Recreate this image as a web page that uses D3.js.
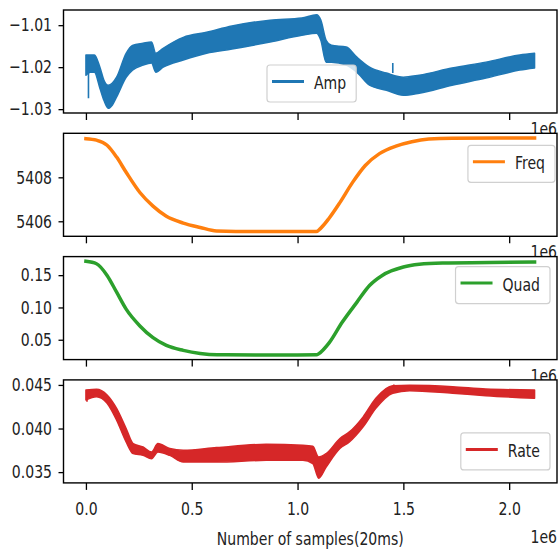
<!DOCTYPE html>
<html>
<head>
<meta charset="utf-8">
<script src="https://cdn.jsdelivr.net/npm/d3@7"></script>
<style>
body { margin: 0; background: #fff; }
text { font-family: "DejaVu Sans"; font-size: 18px; fill: #222; }
</style>
</head>
<body>
<svg width="558" height="553"></svg>
<script>
// samples, in millions (the axis shows a 1e6 offset)
var ampX = [0, 0.02, 0.04, 0.066, 0.085, 0.105, 0.125, 0.145, 0.19, 0.22, 0.27, 0.31, 0.33, 0.365, 0.46, 0.57, 0.69, 0.87, 1.02, 1.09, 1.11, 1.135, 1.16, 1.23, 1.28, 1.34, 1.42, 1.50, 1.575, 1.73, 1.89, 2.05, 2.12];
var ampHi = [-1.0171, -1.0171, -1.0171, -1.0200, -1.0231, -1.0243, -1.0238, -1.0224, -1.0167, -1.0148, -1.0143, -1.0140,
             -1.0167, -1.0155, -1.0129, -1.0117, -1.0102, -1.0088, -1.0083, -1.0075, -1.0088, -1.0136,
             -1.0148, -1.0152, -1.0176, -1.0200, -1.0214, -1.0224, -1.0219, -1.0202, -1.0188, -1.0171, -1.0167];
var ampLo = [-1.0219, -1.0212, -1.0212, -1.0250, -1.0279, -1.0298, -1.0290, -1.0271, -1.0224, -1.0207, -1.0195, -1.0190,
             -1.0212, -1.0200, -1.0183, -1.0167, -1.0157, -1.0140, -1.0124, -1.0119, -1.0136, -1.0188,
             -1.0188, -1.0195, -1.0212, -1.0243, -1.0255, -1.0267, -1.0262, -1.0243, -1.0226, -1.0207, -1.0202];
var ampSpikeX = [0.012, 1.45];
var ampSpikeTip = [-1.0274, -1.0190];
var ampSpikeBase = [-1.0212, -1.0214];

var freqX = [0, 0.05, 0.1, 0.145, 0.19, 0.255, 0.317, 0.38, 0.46, 0.54, 0.617, 0.8, 1.0, 1.088, 1.11, 1.15, 1.2, 1.26, 1.32, 1.387, 1.465, 1.54, 1.62, 1.73, 2.12];
var freqV = [5409.76, 5409.69, 5409.46, 5408.92, 5408.23, 5407.31, 5406.69, 5406.23, 5405.92, 5405.72, 5405.56, 5405.53, 5405.53,
             5405.53, 5405.69, 5406.15, 5406.85, 5407.77, 5408.54, 5409.08, 5409.42, 5409.62, 5409.74, 5409.78, 5409.79];

var quadX = [0, 0.05, 0.1, 0.145, 0.19, 0.255, 0.317, 0.38, 0.46, 0.54, 0.62, 0.8, 1.0, 1.09, 1.10, 1.15, 1.21, 1.28, 1.34, 1.40, 1.50, 1.575, 1.685, 2.12];
var quadV = [0.1715, 0.1677, 0.1496, 0.1236, 0.0974, 0.0714, 0.0532, 0.0412, 0.0335, 0.0287, 0.0267, 0.0265,
             0.0265, 0.0267, 0.0283, 0.0455, 0.0766, 0.1079, 0.1340, 0.1496, 0.1626, 0.1668, 0.1688, 0.1704];

var rateX = [0, 0.05, 0.1, 0.145, 0.19, 0.223, 0.27, 0.31, 0.34, 0.396, 0.46, 0.617, 0.852, 1.025, 1.072, 1.10, 1.135, 1.2, 1.245, 1.31, 1.37, 1.45, 1.53, 1.733, 1.89, 2.12];
var rateHi = [0.04442, 0.04450, 0.04385, 0.04231, 0.04000, 0.03827, 0.03788, 0.03730, 0.03827, 0.03770, 0.03750, 0.03781, 0.03819,
              0.03808, 0.03796, 0.03673, 0.03712, 0.03885, 0.03961, 0.04134, 0.04347, 0.04490, 0.04495, 0.04480, 0.04454, 0.04442];
var rateLo = [0.04327, 0.04365, 0.04289, 0.04096, 0.03846, 0.03712, 0.03692, 0.03654, 0.03730, 0.03692, 0.03615, 0.03615, 0.03635,
              0.03635, 0.03597, 0.03430, 0.03557, 0.03770, 0.03846, 0.04019, 0.04231, 0.04404, 0.04434, 0.04404, 0.04377, 0.04347];
var rateSpikeX = [0.005, 1.455];
var rateSpikeTip = [0.04307, 0.04504];
var rateSpikeBase = [0.0440, 0.0448];

var names = ["Amp", "Freq", "Quad", "Rate"];
var colors = ["#1f77b4", "#ff7f0e", "#2ca02c", "#d62728"];
var xTicks = [0, 0.5, 1.0, 1.5, 2.0];
var xTickLabels = ["0.0", "0.5", "1.0", "1.5", "2.0"];
var yTicks = [[-1.03, -1.02, -1.01], [5406, 5408], [0.05, 0.10, 0.15], [0.035, 0.040, 0.045]];
var yTickLabels = [["\u22121.03", "\u22121.02", "\u22121.01"], ["5406", "5408"], ["0.05", "0.10", "0.15"], ["0.035", "0.040", "0.045"]];
var xLabel = "Number of samples(20ms)";
var offsetLabel = "1e6";

var SX = 0.78;   // text is squeezed horizontally in the picture
var left = 63.5, right = 557, top0 = 10, ph = 103, pstep = 123.3;

var svg = d3.select("svg");

function zip(xs, ys) { return xs.map((d, i) => [d, ys[i]]); }
function padded(lo, hi) { var d = (hi - lo) * 0.05; return [lo - d, hi + d]; }

var series = [
    { band: true, x: ampX, lo: ampLo, hi: ampHi, sx: ampSpikeX, tip: ampSpikeTip, base: ampSpikeBase },
    { band: false, x: freqX, v: freqV },
    { band: false, x: quadX, v: quadV },
    { band: true, x: rateX, lo: rateLo, hi: rateHi, sx: rateSpikeX, tip: rateSpikeTip, base: rateSpikeBase }
];

var allX = [].concat(ampX, freqX, quadX, rateX);
var x = d3.scaleLinear().domain(padded(d3.min(allX), d3.max(allX))).range([left, right]);

// legend placement, relative to each panel
var legendPos = [{ left: 267, top: 55 }, { right: 555, top: 12 }, { right: 550, top: 10 }, { right: 550, top: 53 }];

function squeeze(sel) {
    sel.each(function () {
        var t = d3.select(this);
        var tx = +(t.attr("x") || 0);
        t.attr("x", tx / SX).attr("transform", "scale(" + SX + ",1)");
    });
}

series.forEach(function (s, i) {
    var top = top0 + i * pstep;
    var g = svg.append("g").attr("transform", "translate(0," + top + ")");
    g.append("rect").attr("x", left).attr("y", 0).attr("width", right - left).attr("height", ph).attr("fill", "#fff");

    var vals = s.band ? [].concat(s.lo, s.hi, s.tip) : s.v;
    var y = d3.scaleLinear().domain(padded(d3.min(vals), d3.max(vals))).range([ph, 0]);

    g.append("clipPath").attr("id", "clip" + i)
        .append("rect").attr("x", left).attr("y", 0).attr("width", right - left).attr("height", ph);
    var plot = g.append("g").attr("clip-path", "url(#clip" + i + ")");

    if (s.band) {
        var area = d3.area().x(d => x(d[0])).y0(d => y(d[1])).y1(d => y(d[2])).curve(d3.curveMonotoneX);
        var pts = s.x.map((d, j) => [d, s.lo[j], s.hi[j]]);
        plot.append("path").attr("d", area(pts))
            .attr("fill", colors[i]).attr("stroke", colors[i]).attr("stroke-width", 1.5)
            .attr("stroke-linejoin", "round");
        s.sx.forEach(function (sxv, j) {
            plot.append("line")
                .attr("x1", x(sxv)).attr("x2", x(sxv))
                .attr("y1", y(s.base[j])).attr("y2", y(s.tip[j]))
                .attr("stroke", colors[i]).attr("stroke-width", 1.6);
        });
    } else {
        var line = d3.line().x(d => x(d[0])).y(d => y(d[1])).curve(d3.curveMonotoneX);
        plot.append("path").attr("d", line(zip(s.x, s.v)))
            .attr("fill", "none").attr("stroke", colors[i]).attr("stroke-width", 3.5)
            .attr("stroke-linecap", "square").attr("stroke-linejoin", "round");
    }

    // y axis
    var ya = g.append("g").attr("transform", "translate(" + left + ",0)")
        .call(d3.axisLeft(y).tickValues(yTicks[i]).tickFormat((d, j) => yTickLabels[i][j])
            .tickSize(5).tickPadding(6.5).tickSizeOuter(0));
    ya.select(".domain").remove();
    ya.selectAll("line").attr("stroke", "#000").attr("stroke-width", 1.3);
    ya.selectAll("text").attr("fill", "#222").attr("font-size", 18).attr("font-family", "DejaVu Sans").call(squeeze);

    // x axis
    var xa = g.append("g").attr("transform", "translate(0," + ph + ")")
        .call(d3.axisBottom(x).tickValues(xTicks).tickFormat((d, j) => xTickLabels[j])
            .tickSize(7).tickPadding(12).tickSizeOuter(0));
    xa.select(".domain").remove();
    xa.selectAll("line").attr("stroke", "#000").attr("stroke-width", 1.3);
    if (i < series.length - 1) {
        xa.selectAll("text").remove();
        g.append("text").attr("transform", "translate(" + right + "," + (ph + 22) + ") scale(" + SX + ",1)")
            .attr("text-anchor", "end").text(offsetLabel);
    } else {
        xa.selectAll("text").attr("fill", "#222").attr("font-size", 18).attr("font-family", "DejaVu Sans").call(squeeze);
        g.append("text").attr("transform", "translate(" + right + "," + (ph + 60) + ") scale(" + SX + ",1)")
            .attr("text-anchor", "end").text(offsetLabel);
        g.append("text").attr("transform", "translate(" + ((left + right) / 2) + "," + (ph + 62) + ") scale(" + SX + ",1)")
            .attr("text-anchor", "middle").text(xLabel);
    }

    // frame
    g.append("rect").attr("x", left).attr("y", 0).attr("width", right - left).attr("height", ph)
        .attr("fill", "none").attr("stroke", "#000").attr("stroke-width", 1.4);

    // legend
    var lg = g.append("g");
    var box = lg.append("rect").attr("rx", 3).attr("fill", "#fff").attr("fill-opacity", 0.8)
        .attr("stroke", "#d0d0d0").attr("stroke-width", 1.2);
    var lt = lg.append("text").text(names[i]);
    var tw = lt.node().getComputedTextLength() * SX;
    var bw = 47 + tw + 10, bh = 37;
    var p = legendPos[i];
    var bx = p.left !== undefined ? p.left : p.right - bw;
    var by = p.top;
    box.attr("x", bx).attr("y", by).attr("width", bw).attr("height", bh);
    lg.append("line").attr("x1", bx + 5).attr("x2", bx + 37).attr("y1", by + 16.5).attr("y2", by + 16.5)
        .attr("stroke", colors[i]).attr("stroke-width", 3);
    lt.attr("transform", "translate(" + (bx + 47) + "," + (by + 24) + ") scale(" + SX + ",1)");
});
</script>
</body>
</html>
